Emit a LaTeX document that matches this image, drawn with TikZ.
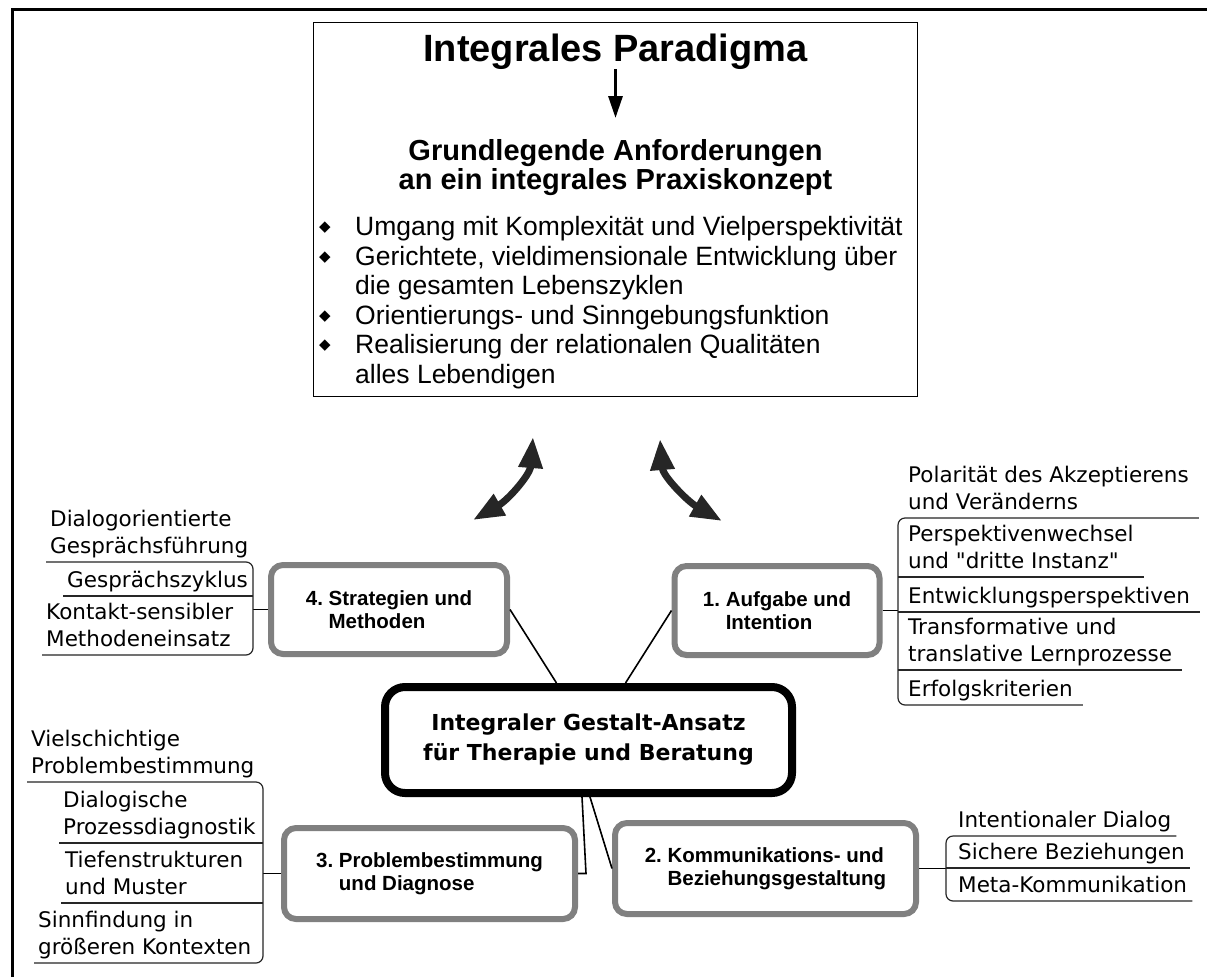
\documentclass[tikz,border=0pt]{standalone}
\usepackage{fontspec}
\setmainfont{Liberation Sans}
\newfontfamily\leaffont{DejaVu Sans}
\usetikzlibrary{arrows.meta}
\usetikzlibrary{calc}
\tikzstyle{reqbox}=[draw=black, line width=1.3pt, minimum width=603.7pt, minimum height=373.7pt, inner sep=0pt]
\tikzstyle{paradigm}=[font=\bfseries\fontsize{38}{40}\selectfont, inner sep=0pt]
\tikzstyle{demand}=[font=\bfseries\fontsize{29}{29}\selectfont, align=center, inner sep=0pt]
\tikzstyle{reqlist}=[font=\fontsize{26.5}{29.6}\selectfont, align=left, inner sep=0pt]
\tikzstyle{topic}=[draw=gray, line width=6pt, rounded corners=12pt, fill=white, align=left, inner sep=0pt, font=\frenchspacing\bfseries\fontsize{20.5}{22.5}\selectfont]
\tikzstyle{hub}=[draw=black, line width=8pt, rounded corners=20pt, fill=white, align=center, inner sep=0pt, minimum width=407pt, minimum height=106pt, font=\leaffont\bfseries\fontsize{22}{30}\selectfont]
\tikzstyle{leaf}=[font=\leaffont\fontsize{21.5}{27}\selectfont, align=left, inner sep=0pt, anchor=south west, execute at end node=\strut]
\tikzstyle{twig}=[line width=1.6pt]
\tikzstyle{branchline}=[line width=1.2pt, black!85]
\tikzstyle{swing}=[line width=7pt, black!85, {Triangle[width=23pt,length=31pt]}-{Triangle[width=23pt,length=31pt]}]
\tikzstyle{downarrow}=[line width=3pt, -{Triangle[width=14pt,length=22pt]}, shorten >=21pt]
\newcommand{\reqdot}{\makebox[36pt][l]{\raisebox{4pt}{\leaffont\fontsize{15}{15}\selectfont ◆}}}

\begin{document}
\begin{tikzpicture}[x=1pt,y=-1pt]
\useasboundingbox (0,0) rectangle (1207,977);
\fill[white] (0,0) rectangle (1207,977);
\draw[line width=3pt] (12,977) -- (12,9) -- (1207,9);

%paradigm
\node[reqbox] (frame) at (615.5,209.5) {};
\node[paradigm, anchor=base] (paradigm) at (615.5,61) {Integrales Paradigma};
\node[demand, anchor=north] (demands) at (615.5,139) {Grundlegende Anforderungen\\an ein integrales Praxiskonzept};
\draw[downarrow] (paradigm) -- (demands);
\node[reqlist, anchor=north west] (reqs) at (319,216) {\reqdot Umgang mit Komplexität und Vielperspektivität\\
  \reqdot Gerichtete, vieldimensionale Entwicklung über\\
  \hspace*{36pt}die gesamten Lebenszyklen\\
  \reqdot Orientierungs- und Sinngebungsfunktion\\
  \reqdot Realisierung der relationalen Qualitäten\\
  \hspace*{36pt}alles Lebendigen};

%swing arrows
\coordinate (lb) at (473,520);
\coordinate (lt) at (533,437);
\coordinate (rb) at (722,521);
\coordinate (rt) at (660,439);
\draw[swing] (lb) .. controls (508,500) and (530,475) .. (lt);
\draw[swing] (rb) .. controls (687,501) and (663,476) .. (rt);

%hub and topics
\node[hub] (hub) at (588.5,740) {Integraler Gestalt-Ansatz\\für Therapie und Beratung};
\node[topic, minimum width=236pt, minimum height=89pt] (s4) at (389,609.5) {4. Strategien und\\\hphantom{4. }Methoden};
\node[topic, minimum width=205pt, minimum height=89pt] (s1) at (777,610.5) {1. Aufgabe und\\\hphantom{1. }Intention};
\node[topic, minimum width=291pt, minimum height=91pt] (s3) at (429.5,873.5) {3. Problembestimmung\\\hphantom{3. }und Diagnose};
\node[topic, minimum width=301pt, minimum height=91pt] (s2) at (765.5,868.5) {2. Kommunikations- und\\\hphantom{2. }Beziehungsgestaltung};

\draw[twig] (s4.east) -- ($(hub.north)+(-32,0)$);
\draw[twig] (s1.west) -- ($(hub.north)+(37,0)$);
\draw[twig] ($(hub.south)+(-6.5,0)$) -- ($(s3.east)+(8,0)$) -- (s3.east);
\draw[twig] ($(hub.south)+(1.5,0)$) -- (s2.west);

%leaves
\foreach \pos/\name/\txt in {{(50,562)/i4a/{Dialogorientierte\\Gesprächsführung}}, {(67,596)/i4b/{Gesprächszyklus}}, {(46,655)/i4c/{Kontakt-sensibler\\Methodeneinsatz}},
  {(908,518)/i1a/{Polarität des Akzeptierens\\und Veränderns}}, {(908,577)/i1b/{Perspektivenwechsel\\und "dritte Instanz"}}, {(908,612)/i1c/{Entwicklungsperspektiven}}, {(908,670)/i1d/{Transformative und\\translative Lernprozesse}}, {(908,705)/i1e/{Erfolgskriterien}},
  {(31,782)/i3a/{Vielschichtige\\Problembestimmung}}, {(63,843)/i3b/{Dialogische\\Prozessdiagnostik}}, {(65,903)/i3c/{Tiefenstrukturen\\und Muster}}, {(38,963)/i3d/{Sinnfindung in\\größeren Kontexten}},
  {(958,836)/i2a/{Intentionaler Dialog}}, {(958,868)/i2b/{Sichere Beziehungen}}, {(958,901)/i2c/{Meta-Kommunikation}}}
    \node[leaf] (\name) at \pos {\txt};

\coordinate (k4) at (253,609);
\coordinate (k1) at (898,612);
\coordinate (k3) at (263,873);
\coordinate (k2) at (946,870);
\draw[twig] (s4.west) -- (s4.west -| k4);
\draw[twig] (s1.east) -- (s1.east -| k1);
\draw[twig] (s3.west) -- (s3.west -| k3);
\draw[twig] (s2.east) -- (s2.east -| k2);

\draw[branchline, rounded corners=7pt] ([xshift=-4pt]i4a.south west) -- (i4a.south west -| k4) -- (i4c.south west -| k4) -- ([xshift=-4pt]i4c.south west);
\draw[branchline] ([xshift=-4pt]i4b.south west) -- (i4b.south west -| k4);

\draw[branchline, rounded corners=7pt] ([xshift=10pt]i1a.south east) -- (i1a.south west -| k1) -- (i1e.south west -| k1) -- ([xshift=10pt]i1e.south east);
\foreach \name in {i1b,i1c,i1d}
    \draw[branchline] (\name.south west -| k1) -- ([xshift=10pt]\name.south east);

\draw[branchline, rounded corners=7pt] ([xshift=-4pt]i3a.south west) -- (i3a.south west -| k3) -- (i3d.south west -| k3) -- ([xshift=-4pt]i3d.south west);
\foreach \name in {i3b,i3c}
    \draw[branchline] ([xshift=-4pt]\name.south west) -- (\name.south west -| k3);

\draw[branchline, rounded corners=7pt] ([xshift=5pt]i2a.south east) -- (i2a.south west -| k2) -- (i2c.south west -| k2) -- ([xshift=5pt]i2c.south east);
\draw[branchline] (i2b.south west -| k2) -- ([xshift=5pt]i2b.south east);

\end{tikzpicture}
\end{document}
